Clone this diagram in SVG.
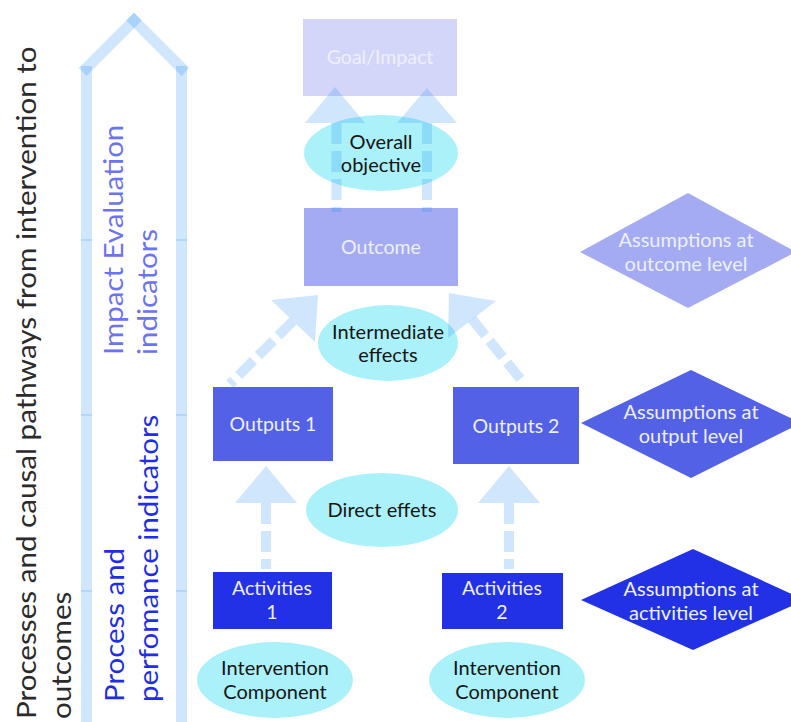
<svg xmlns="http://www.w3.org/2000/svg" width="791" height="722" viewBox="0 0 791 722">
<defs>
<style>
text{font-family:Lato,"Open Sans","Liberation Sans",sans-serif;}
.bandline{stroke:rgb(27,136,245);stroke-opacity:0.21;stroke-width:11;}
.tick{stroke:rgb(27,136,245);stroke-opacity:0.2;stroke-width:1.5;}
.head{fill:rgb(27,136,245);fill-opacity:0.21;}
.shaft{stroke:rgb(27,136,245);stroke-opacity:0.21;stroke-width:10;stroke-dasharray:21 7;fill:none;}
.ell{fill:#abf1f9;}
.etxt{fill:#151515;font-size:20px;text-anchor:middle;}
.btxt{fill:#eef0ff;font-size:19.5px;text-anchor:middle;}
.dtxt{fill:#eef0ff;font-size:20px;text-anchor:middle;}
</style>
</defs>
<rect width="791" height="722" fill="#ffffff"/>

<g id="title" fill="#2b2b2b" font-size="26">
<text transform="translate(36,719) rotate(-90) scale(1.14,1)">Processes and causal pathways from intervention to</text>
<text transform="translate(71,719) rotate(-90) scale(1.14,1)">outcomes</text>
</g>

<g id="big-arrow">
<line class="bandline" x1="86.5" y1="66" x2="86.5" y2="722"/>
<line class="bandline" x1="181.5" y1="66" x2="181.5" y2="722"/>
<line class="bandline" x1="82.6" y1="72" x2="137.9" y2="16.7"/>
<line class="bandline" x1="130.1" y1="16.7" x2="185.4" y2="72"/>
<line class="tick" x1="81" y1="240" x2="92" y2="240"/>
<line class="tick" x1="176" y1="240" x2="187" y2="240"/>
<line class="tick" x1="81" y1="415" x2="92" y2="415"/>
<line class="tick" x1="176" y1="415" x2="187" y2="415"/>
<line class="tick" x1="81" y1="591" x2="92" y2="591"/>
<line class="tick" x1="176" y1="591" x2="187" y2="591"/>
</g>

<g id="impact-label" fill="#6b73f0" font-size="27">
<text transform="translate(123,355) rotate(-90) scale(1.09,1)">Impact Evaluation</text>
<text transform="translate(157,355) rotate(-90) scale(1.09,1)">indicators</text>
</g>
<g id="process-label" fill="#1f2ee6" font-size="27">
<text transform="translate(124,702) rotate(-90) scale(1.09,1)">Process and</text>
<text transform="translate(158,702) rotate(-90) scale(1.09,1)">perfomance indicators</text>
</g>

<g id="goal">
<rect x="303" y="19" width="154" height="77" fill="#d4d6f9"/>
<text class="btxt" x="380" y="64" fill="#eef0fc">Goal/Impact</text>
</g>
<g id="overall-objective">
<ellipse class="ell" cx="381" cy="153" rx="77" ry="38"/>
<text class="etxt" x="381" y="149">Overall</text>
<text class="etxt" x="381" y="172">objective</text>
</g>
<g id="outcome">
<rect x="304" y="208" width="154" height="78" fill="#a4abf3"/>
<text class="btxt" x="381" y="254">Outcome</text>
</g>
<g id="intermediate-effects">
<ellipse class="ell" cx="388" cy="343" rx="70" ry="38"/>
<text class="etxt" x="388" y="339" font-size="16" fill="#333333">Intermediate</text>
<text class="etxt" x="388" y="362" font-size="16" fill="#333333">effects</text>
</g>
<g id="outputs1">
<rect x="213" y="387" width="120" height="74" fill="#5361e6"/>
<text class="btxt" x="273" y="431">Outputs 1</text>
</g>
<g id="outputs2">
<rect x="453" y="387" width="126" height="77" fill="#5361e6"/>
<text class="btxt" x="516" y="433">Outputs 2</text>
</g>
<g id="direct-effets">
<ellipse class="ell" cx="382" cy="510" rx="76" ry="37"/>
<text class="etxt" x="382" y="517">Direct effets</text>
</g>
<g id="activities1">
<rect x="213" y="572" width="119" height="57" fill="#2230e6"/>
<text class="btxt" x="272" y="595">Activities</text>
<text class="btxt" x="272" y="619">1</text>
</g>
<g id="activities2">
<rect x="442" y="573" width="121" height="56" fill="#2230e6"/>
<text class="btxt" x="502" y="595">Activities</text>
<text class="btxt" x="502" y="619">2</text>
</g>
<g id="intervention1">
<ellipse class="ell" cx="275" cy="680" rx="78" ry="38"/>
<text class="etxt" x="275" y="675">Intervention</text>
<text class="etxt" x="275" y="699">Component</text>
</g>
<g id="intervention2">
<ellipse class="ell" cx="507" cy="680" rx="78" ry="38"/>
<text class="etxt" x="507" y="675">Intervention</text>
<text class="etxt" x="507" y="699">Component</text>
</g>
<g id="assump-outcome">
<polygon points="580,252 688,193 796,252 688,308" fill="#a4abf3"/>
<text class="dtxt" x="686" y="247">Assumptions at</text>
<text class="dtxt" x="686" y="271">outcome level</text>
</g>
<g id="assump-output">
<polygon points="581,423 691,370 801,423 691,478" fill="#5361e6"/>
<text class="dtxt" x="691" y="419">Assumptions at</text>
<text class="dtxt" x="691" y="443">output level</text>
</g>
<g id="assump-activities">
<polygon points="581,600 693,549 805,600 693,650" fill="#2230e6"/>
<text class="dtxt" x="691" y="596">Assumptions at</text>
<text class="dtxt" x="691" y="620">activities level</text>
</g>

<g id="connectors">
<polygon class="head" points="335,87 305,123 365,123"/>
<line class="shaft" x1="336.5" y1="123" x2="336.5" y2="212"/>
<polygon class="head" points="427,88 397,123 457,123"/>
<line class="shaft" x1="427" y1="123" x2="427" y2="212"/>
<polygon class="head" points="318,295 271,300 315,342"/>
<line class="shaft" x1="293" y1="321" x2="230" y2="384"/>
<polygon class="head" points="449,293 496,301 448,338"/>
<line class="shaft" x1="472" y1="319" x2="522" y2="381"/>
<polygon class="head" points="266,466 235,503 297,503"/>
<line class="shaft" x1="266" y1="503" x2="266" y2="569"/>
<polygon class="head" points="509,466 478,503 540,503"/>
<line class="shaft" x1="509" y1="503" x2="509" y2="569"/>
</g>
</svg>
